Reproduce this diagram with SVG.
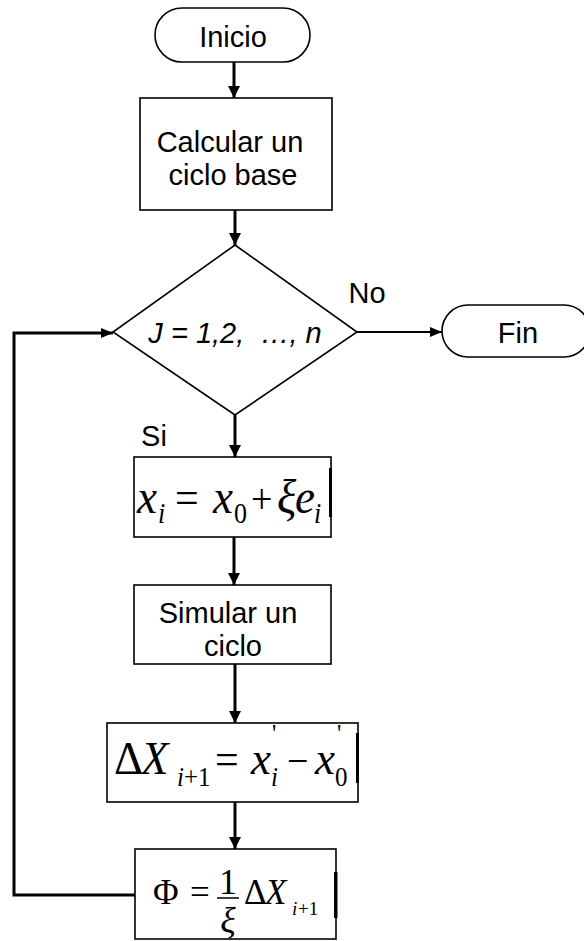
<svg xmlns="http://www.w3.org/2000/svg" width="584" height="941" viewBox="0 0 584 941">
  <defs>
    <marker id="arrow" viewBox="0 0 12 12" refX="12" refY="6" markerWidth="12" markerHeight="12" markerUnits="userSpaceOnUse" orient="auto">
      <path d="M0,0 L12,6 L0,12 Z" fill="#000"/>
    </marker>
    <marker id="arrowSmall" viewBox="0 0 12 10" refX="12" refY="5" markerWidth="12" markerHeight="10" markerUnits="userSpaceOnUse" orient="auto">
      <path d="M0,0 L12,5 L0,10 Z" fill="#000"/>
    </marker>
  </defs>
  <style>
    .shape { fill: #fff; stroke: #000; stroke-width: 1.6; }
    .label { font-family: "Liberation Sans", Arial, sans-serif; font-size: 29px; fill: #000; text-anchor: middle; }
    .math { font-family: "Liberation Serif", "Times New Roman", serif; fill: #000; }
    .mi { font-style: italic; }
    .flow { fill: none; stroke: #000; stroke-width: 3; }
    .thin { fill: none; stroke: #000; stroke-width: 2; }
    .bar { fill: #000; }
  </style>
  <rect width="584" height="941" fill="#fff"/>

  <!-- connectors -->
  <g id="connectors">
    <line class="flow" x1="234" y1="62" x2="234" y2="98" marker-end="url(#arrow)"/>
    <line class="flow" x1="235" y1="210" x2="235" y2="245" marker-end="url(#arrow)"/>
    <line class="flow" x1="235" y1="415" x2="235" y2="457" marker-end="url(#arrow)"/>
    <line class="flow" x1="234" y1="537" x2="234" y2="585" marker-end="url(#arrow)"/>
    <line class="flow" x1="235" y1="664" x2="235" y2="723" marker-end="url(#arrow)"/>
    <line class="flow" x1="235" y1="802" x2="235" y2="849" marker-end="url(#arrow)"/>
    <line class="thin" x1="357" y1="332" x2="442" y2="332" marker-end="url(#arrowSmall)"/>
    <polyline class="flow" points="135,895 14,895 14,333 113,333" marker-end="url(#arrowSmall)"/>
    <text class="label" x="367" y="303">No</text>
    <text class="label" x="154" y="446">Si</text>
  </g>

  <!-- start -->
  <g id="inicio">
    <rect class="shape" x="155" y="8" width="155" height="54" rx="27" ry="27"/>
    <text class="label" x="233" y="47">Inicio</text>
  </g>

  <!-- base cycle -->
  <g id="calcular">
    <rect class="shape" x="140" y="98" width="192" height="112"/>
    <text class="label" x="230" y="152">Calcular un</text>
    <text class="label" x="233" y="185">ciclo base</text>
  </g>

  <!-- loop decision -->
  <g id="decision">
    <polygon class="shape" points="235,245 357,332 235,415 113,332"/>
    <text class="label" x="235" y="343" font-style="italic" xml:space="preserve">J = 1,2,  …, n</text>
  </g>

  <!-- end -->
  <g id="fin">
    <rect class="shape" x="442" y="305" width="148" height="52" rx="26" ry="26"/>
    <text class="label" x="518" y="343">Fin</text>
  </g>

  <!-- perturbed point -->
  <g id="perturbar">
    <rect class="shape" x="134" y="457" width="197" height="80"/>
    <rect class="bar" x="329" y="468" width="3" height="49"/>
    <text class="math" font-size="45" y="513" transform="translate(0,513) scale(1,1.1) translate(0,-513)">
      <tspan class="mi" x="137">x</tspan><tspan class="mi" x="158" y="522" font-size="26">i</tspan><tspan x="175" y="513" font-size="42">=</tspan><tspan class="mi" x="213">x</tspan><tspan x="234" y="522" font-size="26">0</tspan><tspan x="251" y="513" font-size="38">+</tspan><tspan class="mi" x="277">ξ</tspan><tspan class="mi" x="295">e</tspan><tspan class="mi" x="314" y="522" font-size="26">i</tspan>
    </text>
  </g>

  <!-- simulate -->
  <g id="simular">
    <rect class="shape" x="134" y="585" width="197" height="79"/>
    <text class="label" x="228" y="623">Simular un</text>
    <text class="label" x="233" y="656">ciclo</text>
  </g>

  <!-- difference -->
  <g id="diferencia">
    <rect class="shape" x="107" y="723" width="251" height="79"/>
    <rect class="bar" x="356" y="733" width="3" height="50"/>
    <text class="math" font-size="45" y="774" transform="translate(0,774) scale(1,1.05) translate(0,-774)">
      <tspan x="114">Δ</tspan><tspan class="mi" x="141">X</tspan><tspan class="mi" x="177" y="785" font-size="25">i</tspan><tspan x="184" y="785" font-size="25">+1</tspan><tspan x="215" y="774" font-size="42">=</tspan><tspan class="mi" x="251">x</tspan><tspan x="272" y="744" font-size="24">'</tspan><tspan class="mi" x="271" y="785" font-size="25">i</tspan><tspan x="287" y="774" font-size="38">−</tspan><tspan class="mi" x="315">x</tspan><tspan x="337" y="744" font-size="24">'</tspan><tspan x="335" y="785" font-size="25">0</tspan>
    </text>
  </g>

  <!-- update -->
  <g id="actualizar">
    <rect class="shape" x="135" y="849" width="201" height="90"/>
    <rect class="bar" x="334" y="872" width="3.5" height="46"/>
    <text class="math" font-size="35" y="904">
      <tspan x="153">Φ</tspan><tspan x="190">=</tspan><tspan x="244">Δ</tspan><tspan class="mi" x="265">X</tspan><tspan class="mi" x="292" y="915" font-size="19">i</tspan><tspan x="298" y="915" font-size="19">+1</tspan>
    </text>
    <text class="math" font-size="36" x="228" y="894" text-anchor="middle">1</text>
    <line x1="217" y1="898" x2="239" y2="898" stroke="#000" stroke-width="1.5"/>
    <text class="math mi" font-size="36" x="228" y="932" text-anchor="middle">ξ</text>
  </g>
</svg>
